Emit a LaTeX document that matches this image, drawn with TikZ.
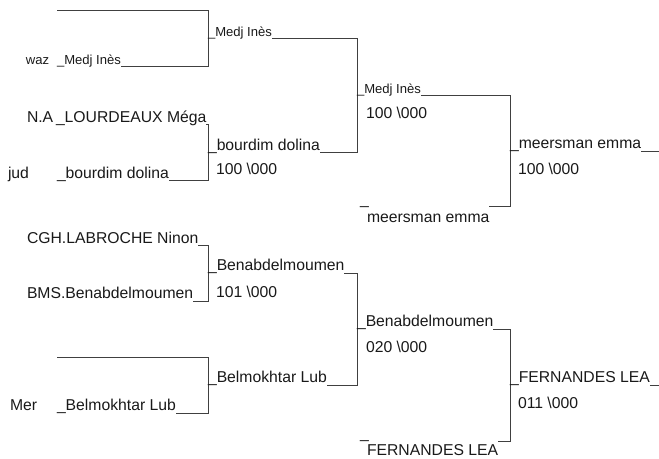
\documentclass[tikz,border=0pt]{standalone}
\usepackage{fontspec}
\setmainfont{Liberation Sans}
\begin{document}
\begin{tikzpicture}[x=0.75pt,y=-0.75pt,
  entry/.style={anchor=south west,inner xsep=0pt,inner ysep=2pt,outer sep=0pt,text depth=0pt,
    font=\fontsize{11.8}{13}\selectfont,text=black!90},
  smallentry/.style={entry,font=\fontsize{9.8}{11}\selectfont},
  score/.style={anchor=base west,inner sep=0pt,outer sep=0pt,font=\fontsize{11.8}{13}\selectfont,text=black!90},
  bline/.style={draw=black!75,line width=0.75pt}]
\useasboundingbox (0,0) rectangle (659,459);

\coordinate (e1) at (57,11);
\coordinate (c1) at (208,11);
\node[smallentry] (waz) at (26,67) {waz};
\node[smallentry] (r1b) at (57,67) {\_Medj Inès};
\coordinate (c2) at (208,67);
\node[entry] (na) at (27,125) {N.A};
\node[entry] (r1c) at (56,125) {\_LOURDEAUX Méga};
\coordinate (c3) at (208,125);
\node[entry] (jud) at (8,181) {jud};
\node[entry] (r1d) at (57,181) {\_bourdim dolina};
\coordinate (c4) at (208,181);
\node[entry] (r1e) at (27,246) {CGH.LABROCHE Ninon};
\coordinate (c5) at (208,246);
\node[entry] (r1f) at (27,301) {BMS.Benabdelmoumen};
\coordinate (c6) at (208,301);
\coordinate (e2) at (57,357);
\coordinate (c7) at (208,357);
\node[entry] (mer) at (10,413) {Mer};
\node[entry] (r1h) at (57,413) {\_Belmokhtar Lub};
\coordinate (c8) at (208,413);

\draw[bline] (e1) -- (c1) -- (c2) -- (r1b.south east);
\draw[bline] (r1c.south east) -- (c3) -- (c4) -- (r1d.south east);
\draw[bline] (r1e.south east) -- (c5) -- (c6) -- (r1f.south east);
\draw[bline] (e2) -- (c7) -- (c8) -- (r1h.south east);

\node[smallentry] (r2a) at (208,39) {\_Medj Inès};
\node[entry] (r2b) at (208,153) {\_bourdim dolina};
\node[score] (s2b) at (216,175) {100 \textbackslash 000};
\node[entry] (r2c) at (208,273.5) {\_Benabdelmoumen};
\node[score] (s2c) at (216,297) {101 \textbackslash 000};
\node[entry] (r2d) at (208,385) {\_Belmokhtar Lub};
\coordinate (d1) at (357,39);
\coordinate (d2) at (357,153);
\coordinate (d3) at (357,273.5);
\coordinate (d4) at (357,385);

\draw[bline] (r2a.south east) -- (d1) -- (d2) -- (r2b.south east);
\draw[bline] (r2c.south east) -- (d3) -- (d4) -- (r2d.south east);

\node[smallentry] (r3a) at (357,96) {\_Medj Inès};
\node[score] (s3a) at (366,119) {100 \textbackslash 000};
\node[entry] (u3b) at (360,207) {\_};
\node[entry,anchor=base west] (r3b) at (367,223) {meersman emma};
\node[entry] (r3c) at (357,329) {\_Benabdelmoumen};
\node[score] (s3c) at (366,352) {020 \textbackslash 000};
\node[entry] (u3d) at (360,441) {\_};
\node[entry,anchor=base west] (r3d) at (367,455) {FERNANDES LEA};
\coordinate (f1) at (510,96);
\coordinate (f2) at (510,207);
\coordinate (f3) at (510,329);
\coordinate (f4) at (510,441);

\draw[bline] (r3a.south east) -- (f1) -- (f2) -- (r3b.east |- f2);
\draw[bline] (r3c.south east) -- (f3) -- (f4) -- (r3d.east |- f4);

\node[entry] (r4a) at (510,151.5) {\_meersman emma};
\node[score] (s4a) at (518,175) {100 \textbackslash 000};
\node[entry] (r4b) at (510,385) {\_FERNANDES LEA};
\node[score] (s4b) at (518,408) {011 \textbackslash 000};
\coordinate (g1) at (659,151.5);
\coordinate (g2) at (659,385);

\draw[bline] (r4a.south east) -- (g1);
\draw[bline] (r4b.south east) -- (g2);
\end{tikzpicture}
\end{document}
